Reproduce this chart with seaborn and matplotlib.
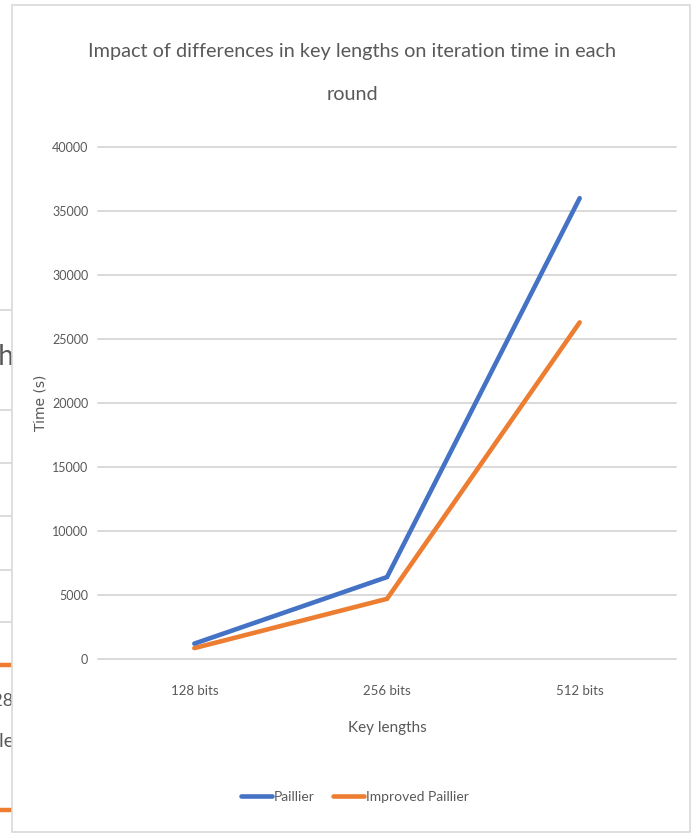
import matplotlib
matplotlib.use("Agg")
import matplotlib.pyplot as plt
from matplotlib.patches import Rectangle
from matplotlib.lines import Line2D
import seaborn as sns
import pandas as pd

# Iteration time per round for each key length
key_lengths = ["128 bits", "256 bits", "512 bits"]
paillier = [1200, 6400, 36000]
improved_paillier = [850, 4700, 26300]
series_names = ["Paillier", "Improved Paillier"]
y_ticks = [0, 5000, 10000, 15000, 20000, 25000, 30000, 35000, 40000]

df = pd.DataFrame({
    "Key lengths": key_lengths * 2,
    "Time (s)": paillier + improved_paillier,
    "Series": [series_names[0]] * 3 + [series_names[1]] * 3,
})

sns.set_theme(style="white")
plt.rcParams["font.family"] = ["Lato", "DejaVu Sans"]

TXT = "#595959"
GRID = "#D9D9D9"
W, H = 694, 833
fig = plt.figure(figsize=(W / 100, H / 100), dpi=100)
fig.patch.set_facecolor("white")

# Background layer in pixel coordinates: neighbouring chart edge and chart frame
bg = fig.add_axes([0, 0, 1, 1], zorder=-5)
bg.set_xlim(0, W)
bg.set_ylim(H, 0)
bg.axis("off")
for gy in [310, 410, 463, 516, 570, 622]:
    bg.plot([0, 12], [gy, gy], color=GRID, lw=1.3, zorder=1)
bg.plot([0, 12], [665, 665], color="#ED7D31", lw=3.2, zorder=1)
bg.plot([0, 12], [810, 810], color="#ED7D31", lw=3.2, zorder=1)
bg.text(15, 357, "ch", fontsize=20, color=TXT, ha="right", va="center", zorder=1)
bg.text(14, 701, "128", fontsize=13, color=TXT, ha="right", va="center", zorder=1)
bg.text(14, 742, "Key le", fontsize=14, color=TXT, ha="right", va="center", zorder=1)
bg.add_patch(Rectangle((12, 5), 678, 827, facecolor="white", edgecolor=GRID,
                       lw=1.2, zorder=2))

# Main plot area
ax = fig.add_axes([98 / W, 1 - 659 / H, (676 - 98) / W, (659 - 147) / H])
ax.patch.set_alpha(0)
sns.lineplot(data=df, x="Key lengths", y="Time (s)", hue="Series",
             palette=["#4472C4", "#ED7D31"], linewidth=3.3, sort=False,
             legend=False, ax=ax)
ax.lines[0].set_zorder(4)
ax.lines[1].set_zorder(3)
for ln in ax.lines:
    ln.set_solid_capstyle("round")
    ln.set_solid_joinstyle("miter")

ax.set_xlim(-0.5, 2.5)
ax.set_ylim(0, 40000)
ax.set_yticks(y_ticks)
ax.set_yticklabels([str(v) for v in y_ticks])
ax.yaxis.grid(True, color=GRID, lw=1.4)
for gl in ax.get_ygridlines():
    gl.set_clip_on(False)
ax.set_axisbelow(True)
for s in ax.spines.values():
    s.set_visible(False)
ax.tick_params(axis="both", length=0, labelcolor=TXT)
ax.tick_params(axis="y", labelsize=9, pad=7)
ax.tick_params(axis="x", labelsize=9.5, pad=19)
ax.set_xlabel("Key lengths", fontsize=11, color=TXT, labelpad=17)
ax.set_ylabel("")

fig.text(41 / W, 1 - 403 / H, "Time (s)", rotation=90, ha="center", va="center",
         fontsize=10, color=TXT, family="DejaVu Sans")

fig.text(352 / W, 1 - 52 / H, "Impact of differences in key lengths on iteration time in each",
         ha="center", va="center", fontsize=14.3, color=TXT)
fig.text(352 / W, 1 - 95 / H, "round", ha="center", va="center", fontsize=14.3, color=TXT)

handles = [Line2D([], [], color="#4472C4", lw=3.3, solid_capstyle="round"),
           Line2D([], [], color="#ED7D31", lw=3.3, solid_capstyle="round")]
leg = fig.legend(handles, series_names, loc="center", bbox_to_anchor=(355 / W, 1 - 797 / H),
                 ncol=2, frameon=False, fontsize=10, handlelength=2.2, handletextpad=0.15,
                 columnspacing=1.3)
for t in leg.get_texts():
    t.set_color(TXT)

fig.savefig("out.png", dpi=100, facecolor="white")
